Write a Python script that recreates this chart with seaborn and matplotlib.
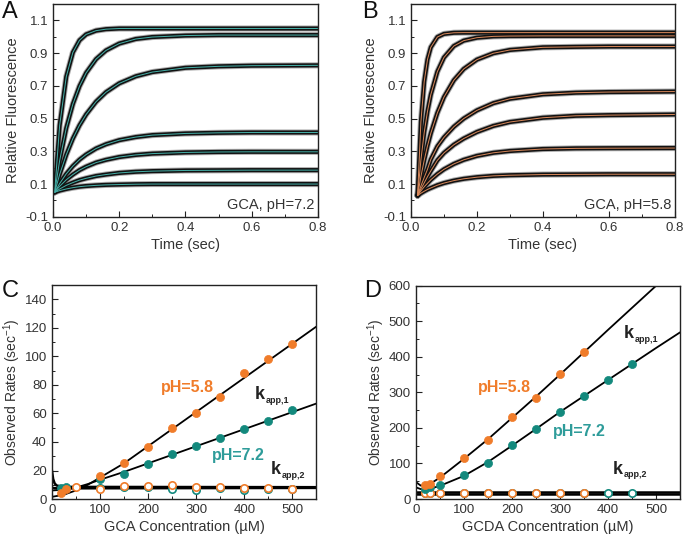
import numpy as np
import pandas as pd
import matplotlib.pyplot as plt
import seaborn as sns
from matplotlib.ticker import AutoMinorLocator, MultipleLocator

# ---- Panel A: GCA, pH 7.2 stopped-flow traces
time_a = [0.005, 0.02, 0.04, 0.06, 0.08, 0.10, 0.13, 0.16, 0.20, 0.25, 0.30, 0.40, 0.50, 0.60, 0.80]
traces_a = [
    [0.05, 0.458, 0.756, 0.904, 0.978, 1.014, 1.037, 1.046, 1.050, 1.050, 1.050, 1.050, 1.050, 1.050, 1.050],
    [0.05, 0.243, 0.442, 0.589, 0.698, 0.779, 0.863, 0.916, 0.958, 0.986, 0.998, 1.007, 1.010, 1.010, 1.010],
    [0.05, 0.158, 0.279, 0.378, 0.459, 0.525, 0.603, 0.661, 0.715, 0.758, 0.784, 0.810, 0.819, 0.823, 0.825],
    [0.05, 0.103, 0.162, 0.210, 0.249, 0.280, 0.317, 0.343, 0.368, 0.387, 0.399, 0.409, 0.413, 0.415, 0.415],
    [0.05, 0.086, 0.126, 0.158, 0.185, 0.206, 0.231, 0.248, 0.265, 0.278, 0.286, 0.293, 0.296, 0.297, 0.297],
    [0.05, 0.070, 0.092, 0.109, 0.124, 0.135, 0.149, 0.158, 0.168, 0.175, 0.179, 0.183, 0.184, 0.185, 0.185],
    [0.05, 0.060, 0.070, 0.078, 0.084, 0.088, 0.092, 0.095, 0.097, 0.099, 0.100, 0.100, 0.100, 0.100, 0.100],
]

# ---- Panel B: GCA, pH 5.8 traces
time_b = [0.02, 0.03, 0.04, 0.05, 0.06, 0.08, 0.10, 0.13, 0.16, 0.20, 0.25, 0.30, 0.40, 0.50, 0.60, 0.80]
traces_b = [
    [0.03, 0.479, 0.725, 0.861, 0.935, 0.998, 1.017, 1.024, 1.025, 1.025, 1.025, 1.025, 1.025, 1.025, 1.025, 1.025],
    [0.03, 0.246, 0.414, 0.544, 0.646, 0.787, 0.873, 0.943, 0.976, 0.994, 1.002, 1.004, 1.005, 1.005, 1.005, 1.005],
    [0.03, 0.145, 0.245, 0.333, 0.410, 0.535, 0.631, 0.734, 0.803, 0.860, 0.899, 0.919, 0.935, 0.938, 0.940, 0.940],
    [0.03, 0.088, 0.140, 0.190, 0.250, 0.330, 0.385, 0.450, 0.500, 0.550, 0.594, 0.621, 0.648, 0.658, 0.662, 0.665],
    [0.03, 0.070, 0.107, 0.145, 0.180, 0.245, 0.290, 0.340, 0.378, 0.418, 0.455, 0.479, 0.505, 0.517, 0.521, 0.525],
    [0.03, 0.058, 0.083, 0.105, 0.126, 0.161, 0.190, 0.223, 0.248, 0.272, 0.291, 0.302, 0.314, 0.318, 0.319, 0.320],
    [0.03, 0.044, 0.056, 0.067, 0.076, 0.093, 0.106, 0.121, 0.132, 0.142, 0.150, 0.154, 0.158, 0.159, 0.160, 0.160],
]

# ---- Panel C: GCA observed rates
conc_c = [20, 30, 50, 100, 150, 200, 250, 300, 350, 400, 450, 500]
c_k1_58 = [4.2, 6.8, np.nan, 16.2, 25.0, 36.2, 49.6, 60.2, 71.7, 88.1, 98.2, 109.0]
c_k1_72 = [8.0, 8.5, np.nan, 13.9, 17.9, 24.7, 31.5, 37.3, 43.0, 48.9, 54.8, 62.3]
c_k2_58 = [np.nan, np.nan, 8.2, 7.3, 9.4, 9.1, 10.1, 8.5, 8.2, 8.0, 8.0, 6.8]
c_k2_72 = [np.nan, np.nan, np.nan, 7.6, 8.2, 8.4, 7.0, 6.0, 7.5, 6.2, 6.8, 7.2]
c_fit_x = [0, 25, 50, 75, 100, 150, 200, 250, 300, 350, 400, 450, 500, 550]
c_fit_58 = [1.5, 3, 6, 10, 15, 25, 37, 49, 61, 73, 85, 97, 109, 121]
c_fit_72 = [6, 6.5, 8, 10.5, 13.5, 19, 25, 31, 37, 43, 49, 55, 61, 67]
c_k2_fit_x = [0, 3, 6, 10, 20, 40, 550]
c_k2_fit_a = [21, 14, 11, 9.5, 8.8, 8.5, 8.3]
c_k2_fit_b = [8, 7.8, 7.6, 7.5, 7.5, 7.5, 7.8]

# ---- Panel D: GCDA observed rates
conc_d = [20, 30, 50, 100, 150, 200, 250, 300, 350, 400, 450]
d_k1_58 = [40.5, 43, 64, 116.6, 165, 231, 284.5, 351, 413, np.nan, np.nan]
d_k1_72 = [29, 34, 38.6, 66.8, 102.5, 153, 197, 246, 289, 334, 378.5]
d_k2_58 = [17, 17, 17, 17, 17, 17, 16, 16, 17, np.nan, np.nan]
d_k2_72 = [17, 17, 17, 18, 18, 18, 17, 17, 17, 17.5, 17.5]
d_fit_x = [0, 10, 20, 30, 50, 100, 150, 200, 250, 300, 350, 400, 450, 500, 550]
d_fit_58 = [48, 38, 38, 43, 60, 113, 168, 228, 288, 350, 413, 476, 538, 600, 662]
d_fit_72 = [33, 28, 27, 29, 37, 65, 104, 150, 197, 245, 290, 335, 380, 425, 469]
d_k2_fit_x = [0, 550]
d_k2_fit_a = [20, 20]
d_k2_fit_b = [14, 14]

orange = '#F07C2A'
teal = '#13897D'
teal_txt = '#2E9C9A'
txt = '#333333'

sns.set_style("ticks")
plt.rcParams['font.family'] = ['Liberation Sans', 'DejaVu Sans']
plt.rcParams['mathtext.fontset'] = 'custom'
plt.rcParams['mathtext.rm'] = 'Liberation Sans'
plt.rcParams['mathtext.bf'] = 'Liberation Sans:bold'

fig = plt.figure(figsize=(6.85, 5.34), dpi=100)
axA = fig.add_axes([0.0774, 0.594, 0.3866, 0.3986])
axB = fig.add_axes([0.600, 0.594, 0.385, 0.3986])
axC = fig.add_axes([0.0755, 0.0655, 0.3865, 0.4005])
axD = fig.add_axes([0.607, 0.0655, 0.386, 0.3995])


def style(ax, xmaj, ymaj):
    ax.xaxis.set_major_locator(MultipleLocator(xmaj))
    ax.yaxis.set_major_locator(MultipleLocator(ymaj))
    ax.xaxis.set_minor_locator(AutoMinorLocator(2))
    ax.yaxis.set_minor_locator(AutoMinorLocator(2))
    ax.tick_params(which='major', direction='in', length=4, width=0.8,
                   labelsize=9.5, labelcolor=txt, color='#222222')
    ax.tick_params(which='minor', direction='in', length=2, width=0.7, color='#222222')
    for s in ax.spines.values():
        s.set_linewidth(1.0)
        s.set_color('#222222')


def traces(ax, t, ys, fitcol):
    df = pd.DataFrame([(i, tt, v) for i, y in enumerate(ys) for tt, v in zip(t, y)],
                      columns=['trace', 't', 'y'])
    sns.lineplot(data=df, x='t', y='y', units='trace', estimator=None, ax=ax,
                 color='#8a8a8a', lw=4.4, alpha=0.7)
    sns.lineplot(data=df, x='t', y='y', units='trace', estimator=None, ax=ax,
                 color='#111111', lw=3.0)
    sns.lineplot(data=df, x='t', y='y', units='trace', estimator=None, ax=ax,
                 color=fitcol, lw=0.7)
    ax.set_xlim(0, 0.8)
    ax.set_ylim(-0.1, 1.2)
    ax.set_yticks([-0.1, 0.1, 0.3, 0.5, 0.7, 0.9, 1.1])
    ax.set_yticklabels(['-0.1', '0.1', '0.3', '0.5', '0.7', '0.9', '1.1'])
    ax.set_xticks([0, 0.2, 0.4, 0.6, 0.8])
    ax.set_xticklabels(['0.0', '0.2', '0.4', '0.6', '0.8'])
    ax.set_xlabel('Time (sec)', fontsize=10.5, color=txt, labelpad=3)
    ax.set_ylabel('Relative Fluorescence', fontsize=10.5, color=txt, labelpad=4)


style(axA, 0.2, 0.2)
traces(axA, time_a, traces_a, '#45B0A8')
axA.text(0.79, -0.025, 'GCA, pH=7.2', ha='right', va='center', fontsize=10.5, color=txt)

style(axB, 0.2, 0.2)
traces(axB, time_b, traces_b, '#D9885A')
axB.text(0.79, -0.025, 'GCA, pH=5.8', ha='right', va='center', fontsize=10.5, color=txt)


def rates(ax, conc, k1_58, k1_72, k2_58, k2_72, fx, f58, f72, kx, ka, kb):
    for y in (f58, f72):
        sns.lineplot(x=fx, y=y, ax=ax, color='black', lw=1.3)
    for y in (ka, kb):
        sns.lineplot(x=kx, y=y, ax=ax, color='black', lw=1.8)
    sns.scatterplot(x=conc, y=k2_72, ax=ax, s=28, color='white', edgecolor=teal,
                    linewidth=1.2, zorder=3)
    sns.scatterplot(x=conc, y=k2_58, ax=ax, s=28, color='white', edgecolor=orange,
                    linewidth=1.2, zorder=3)
    sns.scatterplot(x=conc, y=k1_72, ax=ax, s=34, color=teal, edgecolor=teal,
                    linewidth=0.5, zorder=4)
    sns.scatterplot(x=conc, y=k1_58, ax=ax, s=34, color=orange, edgecolor=orange,
                    linewidth=0.5, zorder=4)
    ax.set_xlim(0, 550)
    ax.set_ylabel('Observed Rates (sec$^{-1}$)', fontsize=10, color=txt, labelpad=1.5)


def kapp(ax, x, y, sub):
    ax.text(x, y, 'k', color='#222222', fontsize=13, fontweight='bold', ha='left', va='center')
    ax.annotate(sub, (x, y), xytext=(8, -4), textcoords='offset points', color='#222222',
                fontsize=6.5, fontweight='bold', ha='left', va='center')


style(axC, 100, 20)
rates(axC, conc_c, c_k1_58, c_k1_72, c_k2_58, c_k2_72,
      c_fit_x, c_fit_58, c_fit_72, c_k2_fit_x, c_k2_fit_a, c_k2_fit_b)
axC.set_ylim(0, 150)
axC.set_yticks(range(0, 141, 20))
axC.set_xlabel('GCA Concentration (\u00b5M)', fontsize=10.5, color=txt, labelpad=3)
axC.text(281, 78.5, 'pH=5.8', color=orange, fontsize=11.5, fontweight='bold', ha='center', va='center')
axC.text(388, 30.3, 'pH=7.2', color=teal_txt, fontsize=11.5, fontweight='bold', ha='center', va='center')
kapp(axC, 421, 73, 'app,1')
kapp(axC, 455, 20.5, 'app,2')

style(axD, 100, 100)
rates(axD, conc_d, d_k1_58, d_k1_72, d_k2_58, d_k2_72,
      d_fit_x, d_fit_58, d_fit_72, d_k2_fit_x, d_k2_fit_a, d_k2_fit_b)
axD.set_ylim(0, 600)
axD.set_yticks(range(0, 601, 100))
axD.set_xlabel('GCDA Concentration (\u00b5M)', fontsize=10.5, color=txt, labelpad=3)
axD.text(185, 314, 'pH=5.8', color=orange, fontsize=11.5, fontweight='bold', ha='center', va='center')
axD.text(341, 191, 'pH=7.2', color=teal_txt, fontsize=11.5, fontweight='bold', ha='center', va='center')
kapp(axD, 432, 465, 'app,1')
kapp(axD, 409, 84, 'app,2')

for lab, x, y in (('A', 0.003, 0.978), ('B', 0.528, 0.978), ('C', 0.003, 0.455), ('D', 0.531, 0.455)):
    fig.text(x, y, lab, fontsize=17, color='#111111', ha='left', va='center')

fig.savefig('out.png', dpi=100)
